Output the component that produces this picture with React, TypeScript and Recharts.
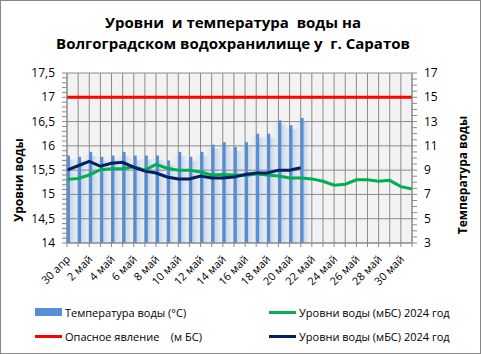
import {
  ComposedChart,
  Bar,
  Line,
  XAxis,
  YAxis,
  CartesianGrid,
  ReferenceLine,
} from 'recharts'

// days shown on the x axis, 30 apr .. 31 may
const DAYS = [
  '30 апр', '1 май', '2 май', '3 май', '4 май', '5 май', '6 май', '7 май',
  '8 май', '9 май', '10 май', '11 май', '12 май', '13 май', '14 май', '15 май',
  '16 май', '17 май', '18 май', '19 май', '20 май', '21 май', '22 май', '23 май',
  '24 май', '25 май', '26 май', '27 май', '28 май', '29 май', '30 май', '31 май',
]

// water temperature, °C (right axis)
const TEMP = [
  10.2, 10.1, 10.5, 10.1, 10.2, 10.5, 10.2, 10.2, 10.2, 9.8, 10.5,
  10.1, 10.5, 11.1, 11.3, 10.9, 11.3, 12.0, 12.0, 13.1, 12.7, 13.3,
]

// water level 2024, m BS (dark line)
const LEVEL_NAVY = [
  15.5, 15.59, 15.68, 15.58, 15.64, 15.66, 15.56, 15.48, 15.44, 15.36, 15.32,
  15.32, 15.38, 15.34, 15.34, 15.36, 15.41, 15.44, 15.44, 15.5, 15.5, 15.55,
]

// water level 2024, m BS (green line)
const LEVEL_GREEN = [
  15.31, 15.33, 15.4, 15.51, 15.53, 15.53, 15.57, 15.5, 15.62, 15.54, 15.5,
  15.5, 15.46, 15.4, 15.41, 15.4, 15.39, 15.42, 15.4, 15.38, 15.34, 15.34,
  15.32, 15.27, 15.19, 15.21, 15.3, 15.3, 15.27, 15.29, 15.16, 15.11,
]

const DANGER = 17

const LEFT_TICKS = [14, 14.5, 15, 15.5, 16, 16.5, 17, 17.5]
const RIGHT_TICKS = [3, 5, 7, 9, 11, 13, 15, 17]

const BLUE = '#558ED5'
const GREEN = '#00B050'
const NAVY = '#002060'
const RED = '#FF0000'
const GRID = '#8a8a8a'
const FONT = '"Open Sans", sans-serif'

const data = DAYS.map((d, i) => ({
  i,
  day: d,
  temp: TEMP[i],
  navy: LEVEL_NAVY[i],
  green: LEVEL_GREEN[i],
}))

const xTicks = DAYS.map((_, i) => i)
// minor tick marks: 0.1 on the left axis, 0.5 on the right axis
const leftMinor = Array.from({ length: 36 }, (_, k) => +(14 + k * 0.1).toFixed(1))
const rightMinor = Array.from({ length: 29 }, (_, k) => 3 + k * 0.5)

const BarShape = (props: any) => {
  const { x, y, width, height } = props
  if (x == null || y == null || !height || height <= 0) return null
  const cx = x + width / 2
  return (
    <g>
      <rect x={cx - 7} y={y + 3} width={7} height={height - 3} fill="url(#hazeL)" />
      <rect x={cx + 2.5} y={y + 4} width={6} height={height - 4} fill="url(#hazeR)" />
      <rect x={cx - 0.5} y={y} width={3} height={height} fill={BLUE} />
    </g>
  )
}

const XTick = (props: any) => {
  const { x, y, payload } = props
  if (payload.value % 2 !== 0) return null
  const ax = x + 4
  const ay = y + 11
  return (
    <text
      x={ax}
      y={ay}
      transform={`rotate(-45 ${ax} ${ay})`}
      textAnchor="end"
      fontSize={11}
      fontFamily={FONT}
      fill="#000"
    >
      {DAYS[payload.value]}
    </text>
  )
}

// y tick: short mark for every minor value, label only on major values
const makeYTick = (side: 'left' | 'right', majors: number[]) => (props: any) => {
  const { x, y, payload } = props
  const v = payload.value
  const major = majors.some(m => Math.abs(m - v) < 1e-6)
  const dir = side === 'left' ? -1 : 1
  // x is the label anchor; axis line sits 9px inside it
  const axisX = side === 'left' ? x + 9 : x - 9
  return (
    <g>
      <line x1={axisX} x2={axisX + dir * 5} y1={y} y2={y} stroke={GRID} />
      {major && (
        <text
          x={axisX + dir * 12}
          y={y}
          dy={4}
          textAnchor={side === 'left' ? 'end' : 'start'}
          fontSize={12}
          fontFamily={FONT}
          fill="#000"
        >
          {String(v).replace('.', ',')}
        </text>
      )}
    </g>
  )
}

const LeftTick = makeYTick('left', LEFT_TICKS)
const RightTick = makeYTick('right', RIGHT_TICKS)

function LegendItem({ kind, color, label, left, top }: any) {
  return (
    <div style={{ position: 'absolute', left, top, display: 'flex', alignItems: 'center', height: 16 }}>
      <div
        style={{
          width: 27,
          height: kind === 'rect' ? 8 : 3,
          background: color,
          marginRight: 3,
        }}
      />
      <span style={{ fontSize: 11, fontFamily: FONT, whiteSpace: 'pre', color: '#000' }}>{label}</span>
    </div>
  )
}

export default function App() {
  return (
    <div style={{ position: 'absolute', left: 0, top: 0, width: 481, height: 354, background: '#fff' }}>
      <ComposedChart
        width={481}
        height={354}
        data={data}
        margin={{ top: 73, right: 29, bottom: 51, left: 27 }}
      >
        <defs>
          <linearGradient id="hazeR" x1="0" y1="0" x2="1" y2="0">
            <stop offset="0%" stopColor={BLUE} stopOpacity={0.3} />
            <stop offset="100%" stopColor={BLUE} stopOpacity={0} />
          </linearGradient>
          <linearGradient id="hazeL" x1="0" y1="0" x2="1" y2="0">
            <stop offset="0%" stopColor={BLUE} stopOpacity={0} />
            <stop offset="100%" stopColor={BLUE} stopOpacity={0.12} />
          </linearGradient>
        </defs>
        <CartesianGrid
          stroke={GRID}
          fill="#F2F2F2"
          yAxisId="left"
          horizontalValues={LEFT_TICKS}
          verticalValues={xTicks}
        />
        <XAxis
          dataKey="i"
          type="number"
          domain={[0, 31]}
          ticks={xTicks}
          interval={0}
          height={60}
          tickSize={4}
          tickMargin={2}
          tick={<XTick />}
          stroke={GRID}
        />
        <YAxis
          yAxisId="left"
          domain={[14, 17.5]}
          ticks={leftMinor}
          interval={0}
          width={40}
          tickSize={0}
          tickMargin={9}
          tickLine={false}
          tick={<LeftTick />}
          stroke={GRID}
        />
        <YAxis
          yAxisId="right"
          orientation="right"
          domain={[3, 17]}
          ticks={rightMinor}
          interval={0}
          width={40}
          tickSize={0}
          tickMargin={9}
          tickLine={false}
          tick={<RightTick />}
          stroke={GRID}
        />
        <Bar
          yAxisId="right"
          dataKey="temp"
          barSize={4}
          shape={<BarShape />}
          isAnimationActive={false}
        />
        <ReferenceLine yAxisId="left" y={DANGER} stroke={RED} strokeWidth={3} />
        <Line
          yAxisId="left"
          type="linear"
          dataKey="green"
          stroke={GREEN}
          strokeWidth={3}
          dot={false}
          isAnimationActive={false}
        />
        <Line
          yAxisId="left"
          type="linear"
          dataKey="navy"
          stroke={NAVY}
          strokeWidth={3}
          dot={false}
          isAnimationActive={false}
        />
      </ComposedChart>

      <div
        style={{
          position: 'absolute',
          left: 0,
          top: 12,
          width: 466,
          textAlign: 'center',
          fontFamily: FONT,
          fontWeight: 700,
          fontSize: 15,
          lineHeight: '21px',
          whiteSpace: 'pre',
          color: '#000',
        }}
      >
        {'Уровни  и температура  воды на\nВолгоградском водохранилище у  г. Саратов'}
      </div>

      <div
        style={{
          position: 'absolute',
          left: 18,
          top: 180,
          transform: 'translate(-50%, -50%) rotate(-90deg)',
          fontFamily: FONT,
          fontWeight: 700,
          fontSize: 12,
          whiteSpace: 'nowrap',
          color: '#000',
        }}
      >
        Уровни воды
      </div>
      <div
        style={{
          position: 'absolute',
          left: 462,
          top: 175,
          transform: 'translate(-50%, -50%) rotate(-90deg)',
          fontFamily: FONT,
          fontWeight: 700,
          fontSize: 12,
          whiteSpace: 'nowrap',
          color: '#000',
        }}
      >
        Температура воды
      </div>

      <LegendItem kind="rect" color={BLUE} label="Температура воды (°C)" left={35} top={304} />
      <LegendItem kind="line" color={GREEN} label="Уровни воды (мБС) 2024 год" left={269} top={304} />
      <LegendItem kind="line" color={RED} label="Опасное явление    (м БС)" left={35} top={328} />
      <LegendItem kind="line" color={NAVY} label="Уровни воды (мБС) 2024 год" left={269} top={328} />

      <div
        style={{
          position: 'absolute',
          left: 0,
          top: 0,
          width: 481,
          height: 354,
          boxSizing: 'border-box',
          border: '1px solid #868686',
          pointerEvents: 'none',
        }}
      />
    </div>
  )
}
